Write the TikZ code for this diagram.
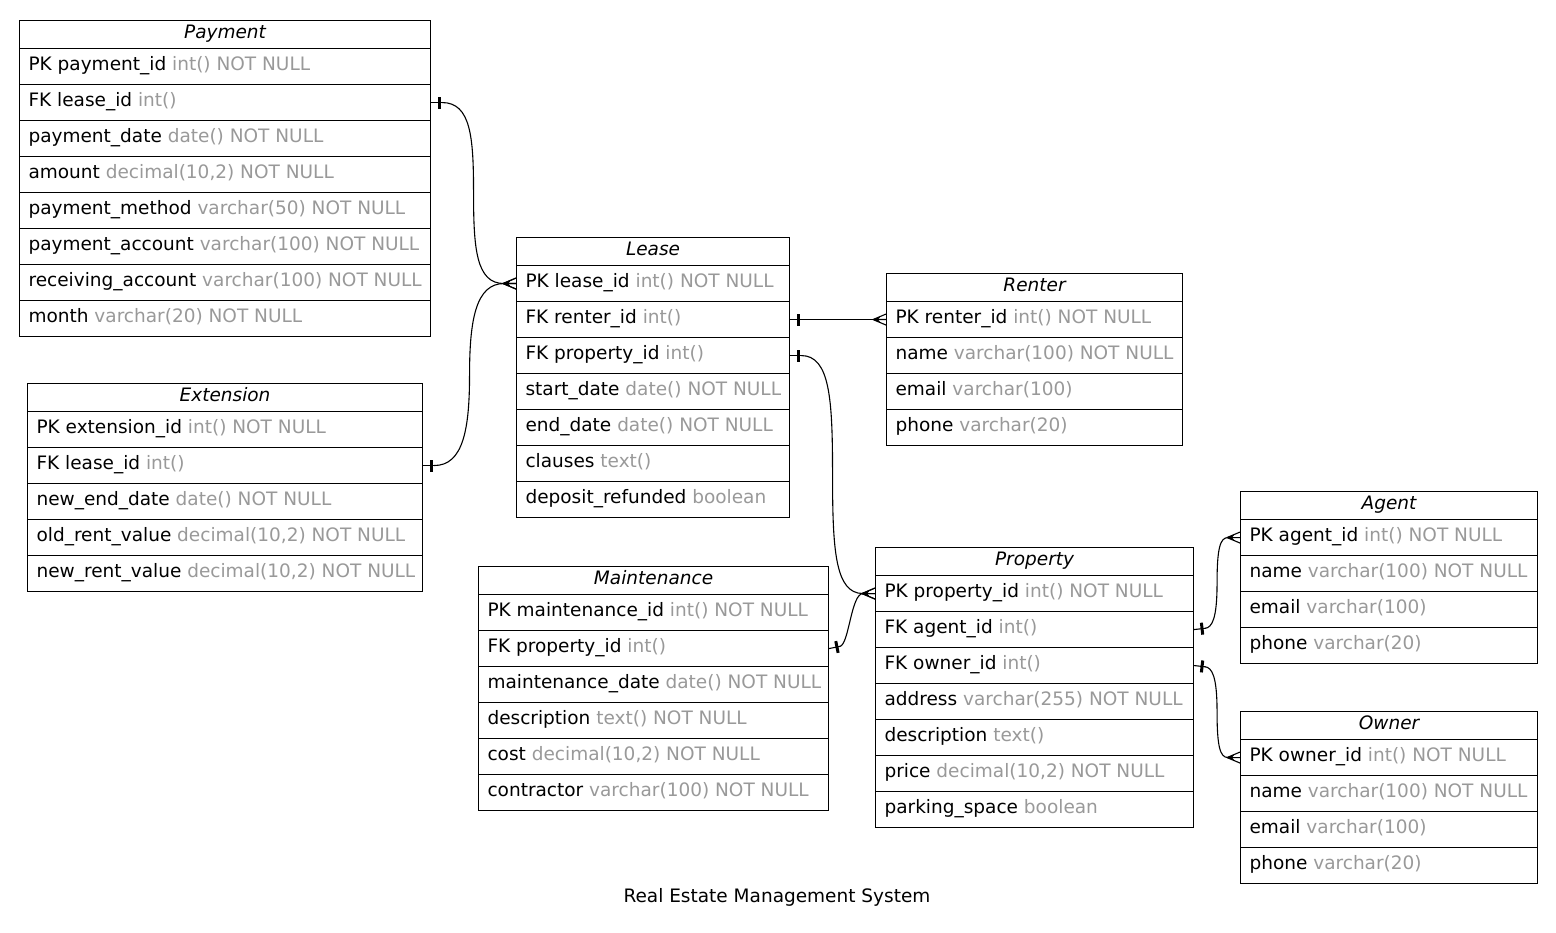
\documentclass[tikz,border=0pt]{standalone}
\usepackage{fontspec}
\setmainfont{DejaVu Sans}
\usetikzlibrary{calc,arrows.meta}

\definecolor{typegray}{RGB}{153,153,153}
\newcommand{\ty}[1]{\textcolor{typegray}{#1}}
\newcommand{\erfont}{\fontsize{18.5}{22}\selectfont}

% "one" end of a relation: thick bar a little way from the table edge
\pgfdeclarearrow{
  name = ERtee,
  setup code = {
    \pgfarrowssettipend{0pt}
    \pgfarrowssetlineend{-11pt}
    \pgfarrowssetbackend{-11pt}
    \pgfarrowsupperhullpoint{0pt}{6pt}
    \pgfarrowsupperhullpoint{-11pt}{6pt}
  },
  drawing code = {
    \pgfpathmoveto{\pgfpointorigin}
    \pgfpathlineto{\pgfpoint{-11.5pt}{0pt}}
    \pgfusepathqstroke
    \pgfpathrectanglecorners{\pgfpoint{-9.5pt}{-6pt}}{\pgfpoint{-6.5pt}{6pt}}
    \pgfusepathqfill
  },
  defaults = {}
}

% "many" end of a relation: crow's foot opening toward the table
\pgfdeclarearrow{
  name = ERcrow,
  setup code = {
    \pgfarrowssettipend{0pt}
    \pgfarrowssetlineend{-12pt}
    \pgfarrowssetbackend{-13pt}
    \pgfarrowsupperhullpoint{0pt}{6pt}
    \pgfarrowsupperhullpoint{-13pt}{1pt}
  },
  drawing code = {
    \pgfpathmoveto{\pgfpoint{-13pt}{0pt}}
    \pgfpathlineto{\pgfpoint{0pt}{5.5pt}}
    \pgfpathmoveto{\pgfpoint{-13pt}{0pt}}
    \pgfpathlineto{\pgfpoint{0pt}{-5.5pt}}
    \pgfpathmoveto{\pgfpoint{-13pt}{0pt}}
    \pgfpathlineto{\pgfpoint{0pt}{0pt}}
    \pgfusepathqstroke
    \pgfpathmoveto{\pgfpoint{-13.5pt}{0pt}}
    \pgfpathlineto{\pgfpoint{-5.5pt}{3pt}}
    \pgfpathlineto{\pgfpoint{-8pt}{0pt}}
    \pgfpathlineto{\pgfpoint{-5.5pt}{-3pt}}
    \pgfpathclose
    \pgfusepathqfill
  },
  defaults = {}
}

\tikzset{
  erbox/.style={draw, line width=1.1pt, anchor=north west, inner xsep=9pt,
    inner ysep=0pt, font=\erfont},
  erhead/.style={erbox, minimum height=28pt, text height=12pt, text depth=4.5pt,
    font=\erfont\itshape},
  errow/.style={erbox, minimum height=36pt, text height=13pt, text depth=5pt},
  rel/.style={line width=1.1pt, ERtee-ERcrow},
  caption/.style={font=\erfont, inner sep=0pt},
}

% table title cell and field cell: name, left, top, width, text
\newcommand{\erhead}[5]{%
  \node[erhead] (#1) at (#2,#3) {\makebox[\dimexpr#4-18pt\relax][c]{#5}};}
\newcommand{\erow}[5]{%
  \node[errow] (#1) at (#2,#3) {\makebox[\dimexpr#4-18pt\relax][l]{#5}};}

\begin{document}
\begin{tikzpicture}[x=1pt, y=-1pt]
\useasboundingbox (0,0) rectangle (1556,933);
\fill[white] (0,0) rectangle (1556,933);

% Payment
\erhead{payhd}{19}{20}{411pt}{Payment}
\erow{paypk}{19}{48}{411pt}{PK payment\_id \ty{int() NOT NULL}}
\erow{payfk}{19}{84}{411pt}{FK lease\_id \ty{int()}}
\erow{pay3}{19}{120}{411pt}{payment\_date \ty{date() NOT NULL}}
\erow{pay4}{19}{156}{411pt}{amount \ty{decimal(10,2) NOT NULL}}
\erow{pay5}{19}{192}{411pt}{payment\_method \ty{varchar(50) NOT NULL}}
\erow{pay6}{19}{228}{411pt}{payment\_account \ty{varchar(100) NOT NULL}}
\erow{pay7}{19}{264}{411pt}{receiving\_account \ty{varchar(100) NOT NULL}}
\erow{pay8}{19}{300}{411pt}{month \ty{varchar(20) NOT NULL}}

% Extension
\erhead{exthd}{27}{383}{395pt}{Extension}
\erow{extpk}{27}{411}{395pt}{PK extension\_id \ty{int() NOT NULL}}
\erow{extfk}{27}{447}{395pt}{FK lease\_id \ty{int()}}
\erow{ext3}{27}{483}{395pt}{new\_end\_date \ty{date() NOT NULL}}
\erow{ext4}{27}{519}{395pt}{old\_rent\_value \ty{decimal(10,2) NOT NULL}}
\erow{ext5}{27}{555}{395pt}{new\_rent\_value \ty{decimal(10,2) NOT NULL}}

% Lease
\erhead{leasehd}{516}{237}{273pt}{Lease}
\erow{leasepk}{516}{265}{273pt}{PK lease\_id \ty{int() NOT NULL}}
\erow{leaseren}{516}{301}{273pt}{FK renter\_id \ty{int()}}
\erow{leaseprop}{516}{337}{273pt}{FK property\_id \ty{int()}}
\erow{lease4}{516}{373}{273pt}{start\_date \ty{date() NOT NULL}}
\erow{lease5}{516}{409}{273pt}{end\_date \ty{date() NOT NULL}}
\erow{lease6}{516}{445}{273pt}{clauses \ty{text()}}
\erow{lease7}{516}{481}{273pt}{deposit\_refunded \ty{boolean}}

% Renter
\erhead{renhd}{886}{273}{296pt}{Renter}
\erow{renpk}{886}{301}{296pt}{PK renter\_id \ty{int() NOT NULL}}
\erow{ren2}{886}{337}{296pt}{name \ty{varchar(100) NOT NULL}}
\erow{ren3}{886}{373}{296pt}{email \ty{varchar(100)}}
\erow{ren4}{886}{409}{296pt}{phone \ty{varchar(20)}}

% Maintenance
\erhead{mainthd}{478}{566}{350pt}{Maintenance}
\erow{maintpk}{478}{594}{350pt}{PK maintenance\_id \ty{int() NOT NULL}}
\erow{maintfk}{478}{630}{350pt}{FK property\_id \ty{int()}}
\erow{maint3}{478}{666}{350pt}{maintenance\_date \ty{date() NOT NULL}}
\erow{maint4}{478}{702}{350pt}{description \ty{text() NOT NULL}}
\erow{maint5}{478}{738}{350pt}{cost \ty{decimal(10,2) NOT NULL}}
\erow{maint6}{478}{774}{350pt}{contractor \ty{varchar(100) NOT NULL}}

% Property
\erhead{prophd}{875}{547}{318pt}{Property}
\erow{proppk}{875}{575}{318pt}{PK property\_id \ty{int() NOT NULL}}
\erow{propag}{875}{611}{318pt}{FK agent\_id \ty{int()}}
\erow{propown}{875}{647}{318pt}{FK owner\_id \ty{int()}}
\erow{prop4}{875}{683}{318pt}{address \ty{varchar(255) NOT NULL}}
\erow{prop5}{875}{719}{318pt}{description \ty{text()}}
\erow{prop6}{875}{755}{318pt}{price \ty{decimal(10,2) NOT NULL}}
\erow{prop7}{875}{791}{318pt}{parking\_space \ty{boolean}}

% Agent
\erhead{aghd}{1240}{491}{297pt}{Agent}
\erow{agpk}{1240}{519}{297pt}{PK agent\_id \ty{int() NOT NULL}}
\erow{ag2}{1240}{555}{297pt}{name \ty{varchar(100) NOT NULL}}
\erow{ag3}{1240}{591}{297pt}{email \ty{varchar(100)}}
\erow{ag4}{1240}{627}{297pt}{phone \ty{varchar(20)}}

% Owner
\erhead{owhd}{1240}{711}{297pt}{Owner}
\erow{owpk}{1240}{739}{297pt}{PK owner\_id \ty{int() NOT NULL}}
\erow{ow2}{1240}{775}{297pt}{name \ty{varchar(100) NOT NULL}}
\erow{ow3}{1240}{811}{297pt}{email \ty{varchar(100)}}
\erow{ow4}{1240}{847}{297pt}{phone \ty{varchar(20)}}

% Relations
\draw[rel] (payfk.east) .. controls +(40,0) and +(0,-55) ..
  ($(payfk.east)!0.5!(leasepk.west)$) .. controls +(0,55) and +(-40,0) .. (leasepk.west);
\draw[rel] (extfk.east) .. controls +(40,0) and +(0,55) ..
  ($(extfk.east)!0.5!(leasepk.west)$) .. controls +(0,-55) and +(-40,0) .. (leasepk.west);
\draw[rel] (leaseren.east) -- (renpk.west);
\draw[rel] (leaseprop.east) .. controls +(40,0) and +(0,-75) ..
  ($(leaseprop.east)!0.5!(proppk.west)$) .. controls +(0,75) and +(-40,0) .. (proppk.west);
\draw[rel] (maintfk.east) .. controls +(20,-4) and +(-24,0) .. (proppk.west);
\draw[rel] (propag.east) .. controls +(18,-2) and +(0,35) ..
  ($(propag.east)!0.5!(agpk.west)$) .. controls +(0,-35) and +(-20,0) .. (agpk.west);
\draw[rel] (propown.east) .. controls +(18,2) and +(0,-35) ..
  ($(propown.east)!0.5!(owpk.west)$) .. controls +(0,35) and +(-20,0) .. (owpk.west);

\node[caption] (title) at (777,897) {Real Estate Management System};
\end{tikzpicture}
\end{document}
